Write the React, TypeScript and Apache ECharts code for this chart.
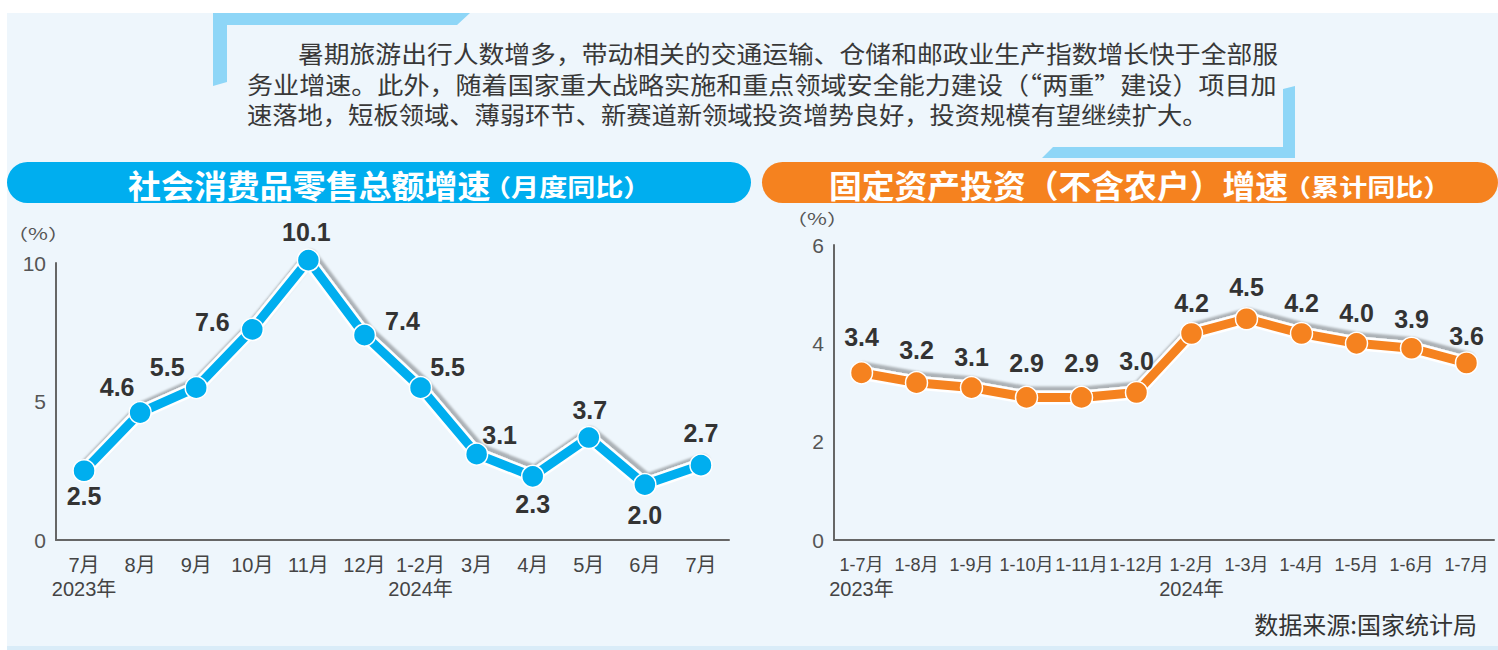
import React, { useEffect, useRef } from 'react';
import * as echarts from 'echarts';

// ---------- data ----------
const retailMonths = ['7月', '8月', '9月', '10月', '11月', '12月', '1-2月', '3月', '4月', '5月', '6月', '7月'];
const retailGrowth = [2.5, 4.6, 5.5, 7.6, 10.1, 7.4, 5.5, 3.1, 2.3, 3.7, 2.0, 2.7];
const retailYearMarks: Record<number, string> = { 0: '2023年', 6: '2024年' };
const retailTicks = [0, 5, 10];

const investPeriods = ['1-7月', '1-8月', '1-9月', '1-10月', '1-11月', '1-12月', '1-2月', '1-3月', '1-4月', '1-5月', '1-6月', '1-7月'];
const investGrowth = [3.4, 3.2, 3.1, 2.9, 2.9, 3.0, 4.2, 4.5, 4.2, 4.0, 3.9, 3.6];
const investYearMarks: Record<number, string> = { 0: '2023年', 6: '2024年' };
const investTicks = [0, 2, 4, 6];

const introLines = [
  '暑期旅游出行人数增多，带动相关的交通运输、仓储和邮政业生产指数增长快于全部服',
  '务业增速。此外，随着国家重大战略实施和重点领域安全能力建设（“两重”建设）项目加',
  '速落地，短板领域、薄弱环节、新赛道新领域投资增势良好，投资规模有望继续扩大。',
];
const retailTitle = ['社会消费品零售总额增速', '（月度同比）'];
const investTitle = ['固定资产投资（不含农户）增速', '（累计同比）'];
const unitLabel = '（%）';
const sourceText = '数据来源:国家统计局';

// ---------- layout (label placement) ----------
const retailLabelOffsets: [number, number][] = [
  [0, 25], [-23, -26], [-29, -21], [-40, -7], [-2, -28], [38, -14],
  [27, -21], [23, -19], [0, 28], [1, -28], [0, 30], [0, -32],
];
const investLabelOffsets: [number, number][] = [
  [0, -36], [0, -33], [0, -31], [0, -34], [0, -34], [0, -32],
  [0, -31], [0, -32], [0, -31], [0, -30], [0, -29], [0, -27],
];

const CJK = "'Noto Sans CJK SC', sans-serif";
const LAT = "'Liberation Sans', Arial, 'Noto Sans CJK SC', sans-serif";
const NARROW = "'Liberation Sans Narrow', 'Liberation Sans', 'Noto Sans CJK SC', sans-serif";

function buildOption() {
  const blue = '#00aeef';
  const orange = '#f5821f';
  const axisColor = '#666';

  const halo = (idx: number, data: number[]) => ({
    type: 'line',
    xAxisIndex: idx,
    yAxisIndex: idx,
    data,
    symbol: 'none',
    silent: true,
    clip: false,
    z: 2,
    lineStyle: {
      color: '#ffffff',
      width: 14,
      join: 'round',
      cap: 'round',
      shadowColor: 'rgba(0,0,0,0.28)',
      shadowBlur: 2,
      shadowOffsetX: 2,
      shadowOffsetY: -4,
    },
    emphasis: { disabled: true },
  });

  const main = (idx: number, data: number[], color: string, offsets: [number, number][]) => ({
    type: 'line',
    xAxisIndex: idx,
    yAxisIndex: idx,
    z: 3,
    clip: false,
    data: data.map((v, i) => ({ value: v, label: { offset: offsets[i] } })),
    symbol: 'circle',
    symbolSize: 22,
    lineStyle: { color, width: 9, join: 'round', cap: 'round' },
    itemStyle: { color, borderColor: '#ffffff', borderWidth: 1.5 },
    label: {
      show: true,
      position: 'inside',
      color: '#333',
      fontSize: 25,
      fontWeight: 'bold',
      fontFamily: LAT,
      formatter: (p: any) => Number(p.value).toFixed(1),
    },
    emphasis: { disabled: true },
  });

  const yAxis = (idx: number, ticks: number[]) => ({
    type: 'value',
    gridIndex: idx,
    min: ticks[0],
    max: ticks[ticks.length - 1],
    interval: ticks[1] - ticks[0],
    axisLine: { show: true, lineStyle: { color: axisColor, width: 2 } },
    axisTick: { show: false },
    splitLine: { show: false },
    axisLabel: { color: '#555', fontSize: 21, fontFamily: LAT, margin: 10 },
  });

  const xAxis = (idx: number, cats: string[], marks: Record<number, string>, catSize: number, catFont: string) => ({
    type: 'category',
    gridIndex: idx,
    data: cats,
    boundaryGap: true,
    axisLine: { show: true, lineStyle: { color: axisColor, width: 2 } },
    axisTick: { show: false },
    axisLabel: {
      interval: 0,
      margin: 13,
      formatter: (v: string, i: number) => (marks[i] ? `{a|${v}}\n{y|${marks[i]}}` : `{a|${v}}`),
      rich: {
        a: { fontSize: catSize, lineHeight: 24, color: '#444', fontFamily: catFont },
        y: { fontSize: 20, lineHeight: 24, color: '#444', fontFamily: LAT },
      },
    },
  });

  const titleText = (x: number, y: number, text: string, size: number, sx: number) => ({
    type: 'text', x, y, scaleX: sx, silent: true,
    style: { text, fill: '#fff', font: `bold ${size}px ${CJK}`, textAlign: 'left', textVerticalAlign: 'middle' },
  });

  const elements: any[] = [
    // white page margins
    { type: 'rect', shape: { x: 0, y: 0, width: 1498, height: 13 }, style: { fill: '#ffffff' }, silent: true },
    { type: 'rect', shape: { x: 0, y: 0, width: 7, height: 650 }, style: { fill: '#ffffff' }, silent: true },
    { type: 'rect', shape: { x: 7, y: 646, width: 1491, height: 4 }, style: { fill: '#d9ecf8' }, silent: true },
    // decorative frame
    {
      type: 'polygon',
      shape: { points: [[213, 13], [470, 13], [457, 25], [227, 25], [227, 82], [213, 86]] },
      style: { fill: '#8ed6f7' },
      silent: true,
    },
    {
      type: 'polygon',
      shape: { points: [[1283, 89], [1295, 86], [1295, 158], [1042, 158], [1053, 147], [1283, 147]] },
      style: { fill: '#8ed6f7' },
      silent: true,
    },
    // title pills
    { type: 'rect', shape: { x: 7, y: 162, width: 744, height: 41, r: 20.5 }, style: { fill: blue }, silent: true },
    { type: 'rect', shape: { x: 762, y: 162, width: 736, height: 41, r: 20.5 }, style: { fill: orange }, silent: true },
    titleText(128, 184, retailTitle[0], 32, 1.03),
    titleText(483, 186, retailTitle[1], 24, 1.17),
    titleText(829, 184, investTitle[0], 32, 1.025),
    titleText(1283, 186, investTitle[1], 24, 1.17),
    // unit labels
    {
      type: 'text', x: 38, y: 233, scaleX: 1.35, silent: true,
      style: { text: unitLabel, fill: '#555', font: `16px ${CJK}`, textAlign: 'center', textVerticalAlign: 'middle' },
    },
    {
      type: 'text', x: 817, y: 218, scaleX: 1.35, silent: true,
      style: { text: unitLabel, fill: '#555', font: `16px ${CJK}`, textAlign: 'center', textVerticalAlign: 'middle' },
    },
    // source
    {
      type: 'text', x: 1477, y: 623, silent: true,
      style: { text: sourceText, fill: '#333', font: `24px ${CJK}`, textAlign: 'right', textVerticalAlign: 'middle' },
    },
  ];

  const introPlacement = [
    { x: 298, y: 52, sx: 1.075 },
    { x: 247, y: 83, sx: 1.087 },
    { x: 247, y: 113, sx: 1.054 },
  ];
  introLines.forEach((line, i) => {
    const p = introPlacement[i];
    elements.push({
      type: 'text', x: p.x, y: p.y, scaleX: p.sx, silent: true,
      style: { text: line, fill: '#383838', font: `24px ${CJK}`, textAlign: 'left', textVerticalAlign: 'middle' },
    });
  });

  return {
    animation: false,
    backgroundColor: '#eef6fc',
    grid: [
      { left: 56, top: 263, width: 673, height: 277 },
      { left: 834, top: 245, width: 660, height: 295 },
    ],
    xAxis: [
      xAxis(0, retailMonths, retailYearMarks, 20, LAT),
      xAxis(1, investPeriods, investYearMarks, 18, NARROW),
    ],
    yAxis: [yAxis(0, retailTicks), yAxis(1, investTicks)],
    series: [
      halo(0, retailGrowth),
      main(0, retailGrowth, blue, retailLabelOffsets),
      halo(1, investGrowth),
      main(1, investGrowth, orange, investLabelOffsets),
    ],
    graphic: { elements },
  };
}

export default function App() {
  const ref = useRef<HTMLDivElement>(null);
  useEffect(() => {
    if (!ref.current) return;
    const chart = echarts.init(ref.current, null, { renderer: 'svg' });
    chart.setOption(buildOption() as any);
    return () => chart.dispose();
  }, []);
  return <div ref={ref} style={{ position: 'fixed', left: 0, top: 0, width: 1498, height: 650 }} />;
}
